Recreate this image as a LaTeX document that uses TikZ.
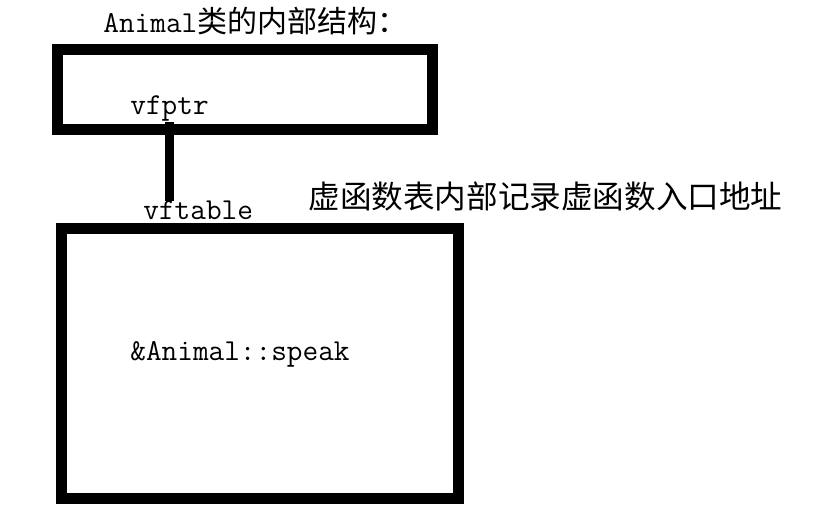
\documentclass[tikz,border=0pt]{standalone}
\usepackage{fontspec}
\newfontfamily\cjk{Noto Sans CJK SC}
\usetikzlibrary{positioning}

\begin{document}
\begin{tikzpicture}[x=0.5pt, y=-0.5pt,
    box/.style={draw, line width=5.5pt, inner sep=0pt},
    link/.style={line width=4.5pt},
    code/.style={font=\ttfamily\fontsize{15.2pt}{18pt}\selectfont, inner sep=0pt}]
    \useasboundingbox (0,0) rectangle (826,524);
    % object and its vftable
    \node[box, minimum width=187.75pt, minimum height=39.75pt] (obj) at (244.75,89.75) {};
    \node[box, minimum width=198.5pt, minimum height=134.5pt] (vtab) at (259.5,363.5) {};
    \node[code, anchor=base west] (title) at (103,33) {Animal{\cjk\fontsize{15pt}{18pt}\selectfont 类的内部结构：}};
    \node[code, anchor=base west] (vfptr) at (130,115) {vfptr};
    \node[code, anchor=base west] (vftable) at (143,220) {vftable};
    \node[code, anchor=base west] (speak) at (130,360) {\&Animal::speak};
    \node[anchor=west, inner sep=0pt, font=\cjk\fontsize{15.8pt}{18pt}\selectfont] (note) at (308,196) {虚函数表内部记录虚函数入口地址};
    \draw[link] (vfptr.south) -- (vfptr.south |- vftable.north);
\end{tikzpicture}
\end{document}
